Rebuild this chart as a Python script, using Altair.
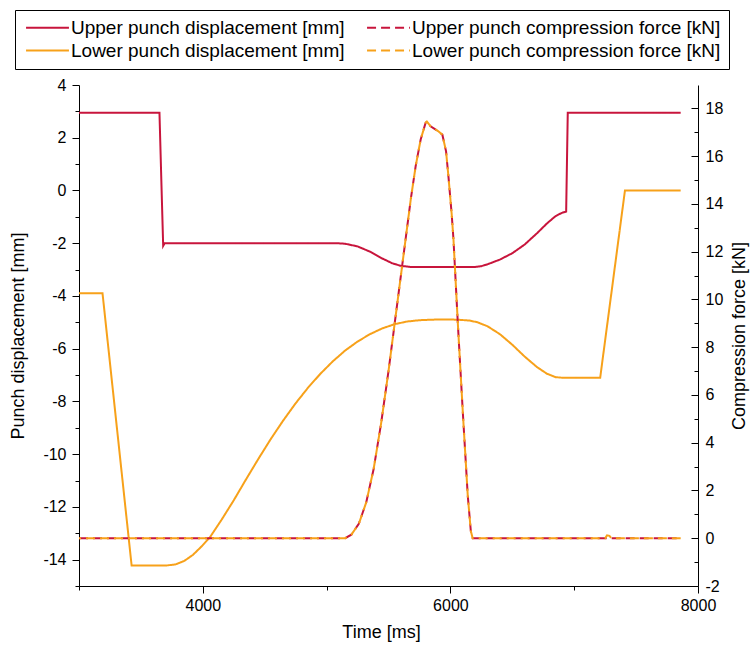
import altair as alt
import pandas as pd

RED = "#C8153C"
ORANGE = "#F7A11A"
FONT = "Liberation Sans"

series_names = [
    "Upper punch displacement [mm]",
    "Upper punch compression force [kN]",
    "Lower punch displacement [mm]",
    "Lower punch compression force [kN]",
]

# Upper punch displacement [mm]
upper_disp_t = [3000, 3650, 3665, 3680, 3692, 5080, 5150, 5250, 5350, 5450, 5530, 5600, 5680,
                6200, 6250, 6300, 6400, 6500, 6600, 6700, 6780, 6850, 6900, 6935, 6948, 7860]
upper_disp_v = [2.95, 2.95, 0.4, -2.1, -2.0, -2.0, -2.02, -2.12, -2.32, -2.58, -2.76, -2.86, -2.9,
                -2.9, -2.87, -2.8, -2.62, -2.38, -2.05, -1.62, -1.25, -0.97, -0.85, -0.8, 2.95, 2.95]

# Lower punch displacement [mm]
lower_disp_t = [3000, 3190, 3425, 3710, 3780, 3850, 3920, 3990, 4058, 4150, 4250, 4350, 4450, 4550,
                4650, 4750, 4850, 4950, 5050, 5150, 5250, 5350, 5450, 5550, 5650, 5750, 5850, 5950,
                6050, 6150, 6220, 6300, 6400, 6500, 6600, 6700, 6780, 6850, 6900, 7210, 7410, 7860]
lower_disp_v = [-3.9, -3.9, -14.22, -14.22, -14.18, -14.05, -13.82, -13.5, -13.15, -12.5, -11.75,
                -10.95, -10.17, -9.42, -8.72, -8.07, -7.48, -6.95, -6.48, -6.07, -5.73, -5.45,
                -5.23, -5.07, -4.97, -4.92, -4.9, -4.89, -4.9, -4.93, -5.0, -5.15, -5.45, -5.85,
                -6.3, -6.7, -6.95, -7.08, -7.1, -7.1, 0.0, 0.0]

# Upper punch compression force [kN]
upper_force_t = [3000, 5150, 5200, 5260, 5320, 5380, 5440, 5500, 5550, 5600, 5640, 5680, 5720, 5760,
                 5800, 5810, 5840, 5900, 5935, 5965, 5985, 6010, 6025, 6060, 6100, 6140, 6165, 6180, 7860]
upper_force_v = [0.0, 0.0, 0.15, 0.6, 1.5, 2.9, 4.8, 7.0, 9.0, 11.0, 12.6, 14.2, 15.6, 16.7,
                 17.4, 17.45, 17.25, 17.05, 16.9, 16.2, 15.1, 13.6, 12.5, 9.0, 5.3, 1.8, 0.3, 0.0, 0.0]

# Lower punch compression force [kN]
lower_force_t = [3000, 5150, 5200, 5260, 5320, 5380, 5440, 5500, 5550, 5600, 5640, 5680, 5720, 5760,
                 5800, 5810, 5840, 5900, 5935, 5965, 5985, 6010, 6025, 6060, 6100, 6140, 6165, 6180,
                 7250, 7265, 7285, 7300, 7860]
lower_force_v = [0.0, 0.0, 0.15, 0.6, 1.5, 2.9, 4.8, 7.0, 9.0, 11.0, 12.6, 14.2, 15.6, 16.7,
                 17.4, 17.45, 17.25, 17.05, 16.9, 16.2, 15.1, 13.6, 12.5, 9.0, 5.3, 1.8, 0.3, 0.0,
                 0.0, 0.12, 0.1, 0.0, 0.0]

x_ticks = [3000, 4000, 5000, 6000, 7000, 8000]
left_ticks = list(range(-15, 5))
right_ticks = list(range(-2, 19))


def frame(t, v, name):
    return pd.DataFrame({"t": t, "v": v, "series": name})


disp_df = pd.concat([frame(upper_disp_t, upper_disp_v, series_names[0]),
                     frame(lower_disp_t, lower_disp_v, series_names[2])])
up_force_df = frame(upper_force_t, upper_force_v, series_names[1])
lo_force_df = frame(lower_force_t, lower_force_v, series_names[3])

legend = alt.Legend(
    title=None, orient="none", legendX=-64, legendY=-75, columns=2, direction="horizontal",
    values=series_names,
    symbolType="M-3.9,0H3.9", symbolSize=121, symbolStrokeWidth=2, symbolOffset=15,
    labelFont=FONT, labelFontSize=19, labelColor="black", labelOffset=14, labelLimit=400,
    columnPadding=18, rowPadding=3, padding=8,
    strokeColor="black",
)

color = alt.Color("series:N", scale=alt.Scale(domain=series_names, range=[RED, RED, ORANGE, ORANGE]),
                  legend=legend)
dash = alt.StrokeDash("series:N", scale=alt.Scale(domain=series_names,
                                                  range=[[1, 0], [9, 5], [1, 0], [9, 5]]),
                      legend=legend)

x = alt.X("t:Q", scale=alt.Scale(domain=[3000, 8000], nice=False, zero=False),
          axis=alt.Axis(values=x_ticks, title="Time [ms]", labelFlush=False,
                        labelExpr="datum.value % 2000 == 0 ? '' + datum.value : ''",
                        tickSize={"condition": {"test": "datum.value % 2000 == 0", "value": 7}, "value": 4},
                        labelFont=FONT, labelFontSize=16, labelColor="black", labelPadding=4,
                        titleFont=FONT, titleFontSize=18, titleFontWeight="normal", titleColor="black",
                        titleX=302, titlePadding=10, domainColor="black", tickColor="black", grid=False))

left_axis = alt.Axis(values=left_ticks, title="Punch displacement [mm]", orient="left",
                     labelExpr="datum.value % 2 == 0 ? '' + datum.value : ''",
                     tickSize={"condition": {"test": "datum.value % 2 == 0", "value": 7}, "value": 4},
                     labelFont=FONT, labelFontSize=16, labelColor="black", labelPadding=6,
                     titleFont=FONT, titleFontSize=18, titleFontWeight="normal", titleColor="black",
                     titleX=-52, domainColor="black", tickColor="black", grid=False)

right_axis = alt.Axis(values=right_ticks, title="Compression force [kN]", orient="right",
                      labelExpr="datum.value % 2 == 0 ? '' + datum.value : ''",
                      tickSize={"condition": {"test": "datum.value % 2 == 0", "value": -7}, "value": -4},
                      labelFont=FONT, labelFontSize=16, labelColor="black", labelPadding=14,
                      titleFont=FONT, titleFontSize=18, titleFontWeight="normal", titleColor="black",
                      titleAngle=270, titleX=50, domainColor="black", tickColor="black", grid=False)

disp_layer = alt.Chart(disp_df).mark_line(strokeWidth=2).encode(
    x=x,
    y=alt.Y("v:Q", scale=alt.Scale(domain=[-15, 4], nice=False, zero=False), axis=left_axis),
    color=color, strokeDash=dash, detail="series:N",
)

force_y = alt.Y("v:Q", scale=alt.Scale(domain=[-2, 18.98], nice=False, zero=False), axis=right_axis)

up_force = alt.Chart(up_force_df).mark_line(strokeWidth=2).encode(
    x=x, y=force_y, color=color, strokeDash=dash)
lo_force = alt.Chart(lo_force_df).mark_line(strokeWidth=2, strokeDashOffset=7).encode(
    x=x, y=force_y, color=color, strokeDash=dash)

chart = alt.layer(disp_layer, alt.layer(up_force, lo_force)).resolve_scale(
    y="independent"
).properties(
    width=619, height=501,
    padding={"left": 79, "top": 85, "right": 53, "bottom": 65},
    autosize=alt.AutoSizeParams(type="none"),
    background="white",
).configure_view(stroke=None)

chart.save("out.html", embed_options={"renderer": "svg", "actions": False})
